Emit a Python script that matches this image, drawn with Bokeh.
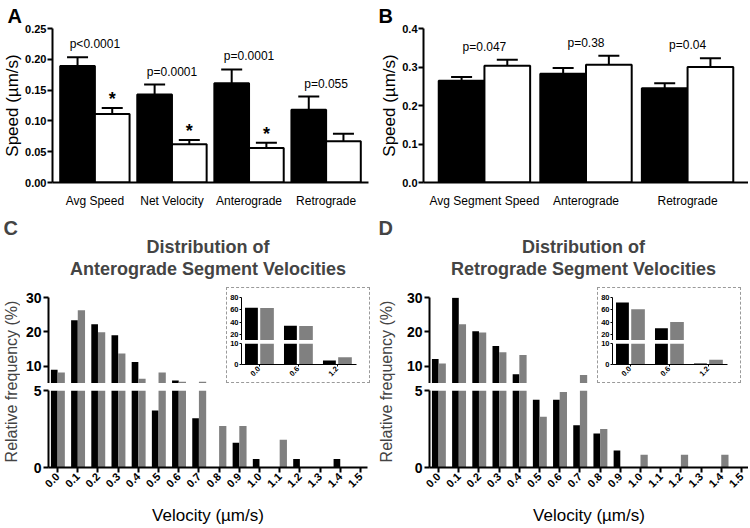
import math
from bokeh.plotting import figure
from bokeh.models import (Range1d, FactorRange, FixedTicker, PrintfTickFormatter,
                          Whisker, TeeHead, ColumnDataSource, Title)
from bokeh.transform import dodge
from bokeh.layouts import row, column
from bokeh.core.properties import value
from bokeh.embed import file_html
from bokeh.resources import INLINE

FONT = "Liberation Sans"
GRAY = "#808080"

# ---------------- data ----------------
a_categories = ["Avg Speed", "Net Velocity", "Anterograde", "Retrograde"]
a_black = [0.189, 0.143, 0.161, 0.118]
a_black_err = [0.0145, 0.016, 0.0225, 0.0215]
a_white = [0.111, 0.062, 0.056, 0.067]
a_white_err = [0.010, 0.007, 0.0085, 0.012]
a_pvals = ["p<0.0001", "p=0.0001", "p=0.0001", "p=0.055"]
a_signif = [True, True, True, False]

b_categories = ["Avg Segment Speed", "Anterograde", "Retrograde"]
b_black = [0.264, 0.2825, 0.245]
b_black_err = [0.010, 0.015, 0.013]
b_white = [0.3035, 0.306, 0.300]
b_white_err = [0.0155, 0.023, 0.023]
b_pvals = ["p=0.047", "p=0.38", "p=0.04"]

bins = ["0.0", "0.1", "0.2", "0.3", "0.4", "0.5", "0.6", "0.7",
        "0.8", "0.9", "1.0", "1.1", "1.2", "1.3", "1.4", "1.5"]
c_black = [9.0, 23.4, 22.2, 19.0, 11.25, 3.7, 5.9, 3.2, 0, 1.6, 0.55, 0, 0.55, 0, 0.55, 0]
c_gray = [8.2, 26.3, 19.9, 13.7, 6.4, 8.2, 5.5, 5.5, 2.7, 2.7, 0, 1.8, 0, 0, 0, 0]
d_black = [12.1, 29.9, 20.2, 15.9, 7.7, 4.4, 4.4, 2.75, 2.2, 1.1, 0, 0, 0, 0, 0, 0]
d_gray = [10.8, 22.2, 19.8, 14.1, 13.3, 3.3, 4.9, 7.5, 2.5, 0, 0.82, 0, 0.82, 0, 0.82, 0]

inset_bins = ["0.0", "0.6", "1.2"]
c_inset_black = [63.5, 34.0, 1.9]
c_inset_gray = [63.0, 33.5, 3.5]
d_inset_black = [72.0, 30.0, 0.5]
d_inset_gray = [61.0, 40.0, 2.3]

c_title = ["Distribution of", "Anterograde Segment Velocities"]
d_title = ["Distribution of", "Retrograde Segment Velocities"]
y_label_speed = "Speed (\u00b5m/s)"
y_label_freq = "Relative frequency (%)"
x_label_vel = "Velocity (\u00b5m/s)"


# ---------------- helpers ----------------
def base_fig(**kw):
    p = figure(output_backend="svg", toolbar_location=None, **kw)
    p.outline_line_color = None
    for g in p.grid:
        g.visible = False
    return p


def style_axis(ax, size, bold=True, line_width=2, tick_out=5, standoff=3):
    ax.axis_line_width = line_width
    ax.axis_line_color = "black"
    ax.major_tick_line_width = line_width
    ax.major_tick_line_color = "black"
    ax.major_tick_out = tick_out
    ax.major_tick_in = 0
    ax.minor_tick_line_color = None
    ax.major_label_text_font = FONT
    ax.major_label_text_font_size = size
    ax.major_label_text_font_style = "bold" if bold else "normal"
    ax.major_label_text_color = "black"
    ax.major_label_standoff = standoff
    ax.axis_label_text_font = FONT
    ax.axis_label_text_font_style = "normal"
    ax.axis_label_text_color = "black"


def bar_panel(cats, black, black_err, white, white_err, pvals, signif, ymax, ticks, fmt,
              width, left, right, letter, pad):
    top_b = [v + e for v, e in zip(black, black_err)]
    top_w = [v + e for v, e in zip(white, white_err)]
    src = ColumnDataSource(dict(cat=cats, black=black, white=white, black_top=top_b,
                                white_top=top_w, ptop=[max(a, b) for a, b in zip(top_b, top_w)],
                                p=pvals, star=["*" if s else "" for s in signif]))
    p = base_fig(width=width, height=212,
                 x_range=FactorRange(factors=cats, range_padding=pad, range_padding_units="absolute"),
                 y_range=Range1d(0, ymax),
                 min_border_left=left, min_border_right=right, min_border_top=24,
                 min_border_bottom=30)
    p.title = Title(text=letter, align="left", offset=3 - left, standoff=4,
                    text_font=FONT, text_font_size="20px", text_font_style="bold",
                    text_color="black")
    xb = dodge("cat", -0.225, range=p.x_range)
    xw = dodge("cat", 0.225, range=p.x_range)
    p.vbar(x=xb, top="black", width=0.45, source=src, fill_color="black",
           line_color="black", line_width=2)
    p.vbar(x=xw, top="white", width=0.45, source=src, fill_color="white",
           line_color="black", line_width=2)
    for base, lo, hi in ((xb, "black", "black_top"), (xw, "white", "white_top")):
        p.add_layout(Whisker(source=src, base=base, lower=lo, upper=hi, line_width=2,
                             line_color="black",
                             upper_head=TeeHead(size=21, line_width=2, line_color="black"),
                             lower_head=None))
    p.text(x="cat", y="ptop", text="p", source=src, text_align="center",
           text_baseline="bottom", y_offset=-6, text_font=value(FONT),
           text_font_size="12px", text_color="black")
    p.text(x=xw, y="white_top", text="star", source=src, text_align="center",
           text_baseline="middle", y_offset=-9, text_font=value(FONT),
           text_font_size="18px", text_font_style="bold", text_color="black")
    style_axis(p.yaxis[0], "11px", True, tick_out=5, standoff=1)
    p.yaxis.ticker = FixedTicker(ticks=ticks)
    p.yaxis.formatter = PrintfTickFormatter(format=fmt)
    p.yaxis.axis_label = y_label_speed
    p.yaxis.axis_label_text_font_size = "17px"
    p.yaxis.axis_label_standoff = 0
    style_axis(p.xaxis[0], "12px", False, tick_out=0, standoff=11)
    p.xaxis.major_tick_line_color = None
    return p


def hist_panel(letter, title_lines, black, gray, in_black, in_gray, col_width,
               lab_w, main_left, upper_w, head_right):
    idx = list(range(len(bins)))
    src = ColumnDataSource(dict(idx=idx, black=black, gray=gray))
    main_w = col_width - lab_w
    frame_w = 319
    main_right = main_w - main_left - frame_w
    x0, x1 = -0.45, 15.35
    ppu = frame_w / (x1 - x0)

    # header with letter and two-line title
    h = base_fig(width=col_width, height=75, x_range=Range1d(0, 1), y_range=Range1d(0, 1),
                 x_axis_location=None, y_axis_location=None,
                 min_border_left=lab_w + main_left, min_border_right=head_right,
                 min_border_top=66, min_border_bottom=6)
    h.add_layout(Title(text=title_lines[1], align="center", standoff=0, text_font=FONT,
                       text_font_size="18px", text_font_style="bold"), "above")
    h.add_layout(Title(text=title_lines[0], align="center", standoff=0, text_font=FONT,
                       text_font_size="18px", text_font_style="bold"), "above")
    h.add_layout(Title(text=letter, align="left", offset=3 - lab_w - main_left, standoff=-9,
                       text_font=FONT, text_font_size="20px", text_font_style="bold"), "above")

    # y label strip
    yl = base_fig(width=lab_w, height=240, x_range=Range1d(0, 1), y_range=Range1d(0, 1),
                  x_axis_location=None, y_axis_location=None,
                  min_border_left=0, min_border_right=0, min_border_top=0, min_border_bottom=52)
    yl.add_layout(Title(text=y_label_freq, align="center", standoff=0, text_font=FONT,
                        text_font_size="16px", text_font_style="normal"), "left")

    def bars(p):
        p.vbar(x=dodge("idx", -0.165), top="black", width=0.33, source=src,
               fill_color="black", line_color=None)
        p.vbar(x=dodge("idx", 0.18), top="gray", width=0.36, source=src,
               fill_color=GRAY, line_color=None)

    # upper broken segment
    up_frame = upper_w - main_left
    pu = base_fig(width=upper_w, height=96, x_range=Range1d(x0, x0 + up_frame / ppu),
                  y_range=Range1d(5, 30), x_axis_location=None,
                  min_border_left=main_left, min_border_right=0, min_border_top=10,
                  min_border_bottom=0)
    bars(pu)
    style_axis(pu.yaxis[0], "14px", True, tick_out=5, standoff=2)
    pu.yaxis.ticker = FixedTicker(ticks=[10, 20, 30])

    # lower segment
    pl = base_fig(width=main_w, height=144, x_range=Range1d(x0, x1), y_range=Range1d(0, 5),
                  min_border_left=main_left, min_border_right=main_right, min_border_top=7,
                  min_border_bottom=60)
    bars(pl)
    style_axis(pl.yaxis[0], "14px", True, tick_out=5, standoff=2)
    pl.yaxis.ticker = FixedTicker(ticks=[0, 5])
    style_axis(pl.xaxis[0], "11px", True, tick_out=5, standoff=2)
    pl.xaxis.ticker = FixedTicker(ticks=idx)
    pl.xaxis.major_label_overrides = {i: b for i, b in zip(idx, bins)}
    pl.xaxis.major_label_orientation = math.pi / 4
    pl.xaxis.axis_label = x_label_vel
    pl.xaxis.axis_label_text_font_size = "17px"
    pl.xaxis.axis_label_standoff = 12

    # inset
    iidx = list(range(len(inset_bins)))
    isrc = ColumnDataSource(dict(idx=iidx, black=in_black, gray=in_gray))
    ixr = Range1d(-0.45, 2.5)

    def ibars(p):
        p.vbar(x=dodge("idx", -0.195), top="black", width=0.33, source=isrc,
               fill_color="black", line_color=None)
        p.vbar(x=dodge("idx", 0.205), top="gray", width=0.35, source=isrc,
               fill_color=GRAY, line_color=None)

    iu = base_fig(width=142, height=52, x_range=ixr, y_range=Range1d(10, 80),
                  x_axis_location=None, min_border_left=11, min_border_right=13,
                  min_border_top=9, min_border_bottom=0)
    ibars(iu)
    style_axis(iu.yaxis[0], "7.5px", True, line_width=1, tick_out=2, standoff=1)
    iu.yaxis.ticker = FixedTicker(ticks=[20, 40, 60, 80])
    il = base_fig(width=142, height=42, x_range=ixr, y_range=Range1d(0, 10),
                  min_border_left=11, min_border_right=13, min_border_top=3,
                  min_border_bottom=18)
    ibars(il)
    style_axis(il.yaxis[0], "7.5px", True, line_width=1, tick_out=2, standoff=1)
    il.yaxis.ticker = FixedTicker(ticks=[0, 10])
    style_axis(il.xaxis[0], "7.5px", True, line_width=1, tick_out=2, standoff=1)
    il.xaxis.ticker = FixedTicker(ticks=iidx)
    il.xaxis.major_label_overrides = {i: b for i, b in zip(iidx, inset_bins)}
    il.xaxis.major_label_orientation = math.pi / 4
    inset = column(iu, il, styles={"border": "1px dashed #9a9a9a"})

    return column(h, row(yl, column(row(pu, inset), pl)))


pA = bar_panel(a_categories, a_black, a_black_err, a_white, a_white_err, a_pvals, a_signif,
               0.25, [0, 0.05, 0.10, 0.15, 0.20, 0.25], "%.2f",
               width=375, left=48, right=7, letter="A", pad=0.05)
pB = bar_panel(b_categories, b_black, b_black_err, b_white, b_white_err, b_pvals,
               [False, False, False], 0.4, [0, 0.1, 0.2, 0.3, 0.4], "%.1f",
               width=373, left=48, right=0, letter="B", pad=0.1)

pC = hist_panel("C", c_title, c_black, c_gray, c_inset_black, c_inset_gray,
                col_width=375, lab_w=20, main_left=28, upper_w=206, head_right=8)
pD = hist_panel("D", d_title, d_black, d_gray, d_inset_black, d_inset_gray,
                col_width=373, lab_w=22, main_left=32, upper_w=200, head_right=11)

layout = column(row(pA, pB), row(pC, pD))

open("out.html", "w").write(file_html(layout, INLINE))
